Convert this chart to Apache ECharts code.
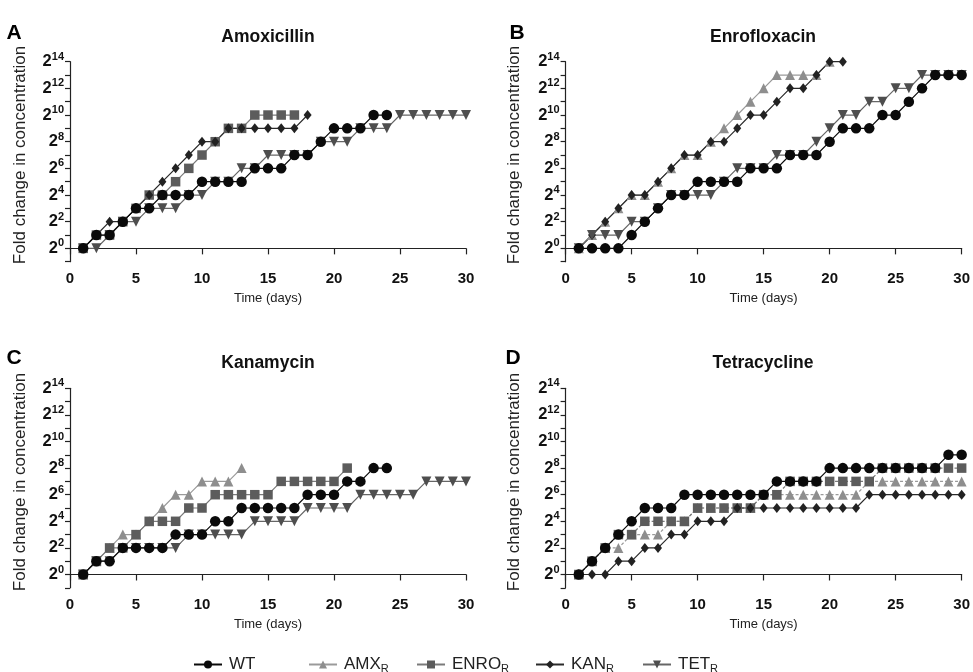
<!DOCTYPE html>
<html><head><meta charset="utf-8">
<script src="https://cdn.jsdelivr.net/npm/echarts@6/dist/echarts.min.js"></script>
<style>html,body{margin:0;padding:0;background:#fff}#c{width:973px;height:672px}</style>
</head><body><div id="c"></div>
<script>
// ---- data (values are log2 fold change, day = index + 1) ----
const yTicks = [0, 2, 4, 6, 8, 10, 12, 14];
const xTicks = [0, 5, 10, 15, 20, 25, 30];
const panelTitles = ['Amoxicillin', 'Enrofloxacin', 'Kanamycin', 'Tetracycline'];
const panelLetters = ['A', 'B', 'C', 'D'];
const seriesNames = ['WT', 'AMXR', 'ENROR', 'KANR', 'TETR'];

// Panel A – Amoxicillin
const A_WT  = [0,1,1,2,3,3,4,4,4,5,5,5,5,6,6,6,7,7,8,9,9,9,10,10];
const A_ENR = [0,1,1,2,3,4,4,5,6,7,8,9,9,10,10,10,10];
const A_KAN = [0,1,2,2,3,4,5,6,7,8,8,9,9,9,9,9,9,10];
const A_TET = [0,0,1,2,2,3,3,3,4,4,5,5,6,6,7,7,7,7,8,8,8,9,9,9,10,10,10,10,10,10];
// Panel B – Enrofloxacin
const B_WT  = [0,0,0,0,1,2,3,4,4,5,5,5,5,6,6,6,7,7,7,8,9,9,9,10,10,11,12,13,13,13];
const B_AMX = [0,1,2,3,4,4,5,6,7,7,8,9,10,11,12,13,13,13,13,14];
const B_KAN = [0,1,2,3,4,4,5,6,7,7,8,8,9,10,10,11,12,12,13,14,14];
const B_TET = [0,1,1,1,2,2,3,4,4,4,4,5,6,6,6,7,7,7,8,9,10,10,11,11,12,12,13,13,13,13];
// Panel C – Kanamycin
const C_WT  = [0,1,1,2,2,2,2,3,3,3,4,4,5,5,5,5,5,6,6,6,7,7,8,8];
const C_AMX = [0,1,2,3,3,4,5,6,6,7,7,7,8];
const C_ENR = [0,1,2,2,3,4,4,4,5,5,6,6,6,6,6,7,7,7,7,7,8];
const C_TET = [0,1,1,2,2,2,2,2,3,3,3,3,3,4,4,4,4,5,5,5,5,6,6,6,6,6,7,7,7,7];
// Panel D – Tetracycline
const D_WT  = [0,1,2,3,4,5,5,5,6,6,6,6,6,6,6,7,7,7,7,8,8,8,8,8,8,8,8,8,9,9];
const D_AMX = [0,1,2,2,3,3,3,4,4,5,5,5,5,5,6,6,6,6,6,6,6,6,7,7,7,7,7,7,7,7];
const D_ENR = [0,1,2,3,3,4,4,4,4,5,5,5,5,5,6,6,7,7,7,7,7,7,7,8,8,8,8,8,8,8];
const D_KAN = [0,0,0,1,1,2,2,3,3,4,4,4,5,5,5,5,5,5,5,5,5,5,6,6,6,6,6,6,6,6];

// ---- styling ----
const FONT = 'Liberation Sans, Arial, Helvetica, sans-serif';
const STY = {
  WT:    { symbol: 'circle',   size: 10.5, rot: 0,   color: '#0a0a0a', line: '#0a0a0a' },
  AMXR:  { symbol: 'triangle', size: 10, rot: 0,   color: '#8e8e8e', line: '#9a9a9a' },
  ENROR: { symbol: 'rect',     size: 9.5,  rot: 0,   color: '#5c5c5c', line: '#7a7a7a' },
  KANR:  { symbol: 'diamond',  size: [8,10], rot: 0, color: '#222222', line: '#2a2a2a' },
  TETR:  { symbol: 'triangle', size: 10, rot: 180, color: '#4e4e4e', line: '#666666' }
};
const legendLabel = { WT: 'WT', AMXR: 'AMX{s|R}', ENROR: 'ENRO{s|R}', KANR: 'KAN{s|R}', TETR: 'TET{s|R}' };

function pairs(arr) { return arr.map((v, i) => [i + 1, v]); }
function mk(name, arr, gi, dashed) {
  const s = STY[name];
  return {
    type: 'line', name: name, xAxisIndex: gi, yAxisIndex: gi,
    data: pairs(arr), symbol: s.symbol, symbolSize: s.size, symbolRotate: s.rot,
    itemStyle: { color: s.color },
    lineStyle: { color: s.line, width: 1.2, type: dashed ? [3, 2] : 'solid' },
    emphasis: { disabled: true }, animation: false,
    z: name === 'WT' ? 5 : 3
  };
}

const grids = [
  { left: 70,    top: 61.7,  width: 396,   height: 200 },
  { left: 565.6, top: 61.7,  width: 396.6, height: 200 },
  { left: 70,    top: 388.3, width: 396,   height: 199.5 },
  { left: 565.6, top: 388.3, width: 396.6, height: 199.5 }
];

const axisLine = { show: true, lineStyle: { color: '#222', width: 1.2 } };
const xAxes = grids.map((g, i) => ({
  type: 'value', gridIndex: i, min: xTicks[0], max: xTicks[xTicks.length - 1], interval: 5,
  axisLine: axisLine, axisTick: { show: true, length: 6, lineStyle: { color: '#222', width: 1.2 } },
  splitLine: { show: false },
  axisLabel: { margin: 10, fontFamily: FONT, fontWeight: 'bold', fontSize: 15, color: '#111' },
  name: 'Time (days)', nameLocation: 'middle', nameGap: 30,
  nameTextStyle: { fontFamily: FONT, fontSize: 13, color: '#222' }
}));
const yAxes = grids.map((g, i) => ({
  type: 'value', gridIndex: i, min: -1, max: 14, interval: 1,
  axisLine: axisLine, axisTick: { show: true, length: 5, lineStyle: { color: '#222', width: 1.2 } },
  splitLine: { show: false },
  axisLabel: {
    margin: 6, fontFamily: FONT,
    formatter: v => (yTicks.indexOf(v) >= 0 ? '{b|2}{s|' + v + '}' : ''),
    rich: {
      b: { fontFamily: FONT, fontWeight: 'bold', fontSize: 16.5, color: '#111' },
      s: { fontFamily: FONT, fontWeight: 'bold', fontSize: 11, color: '#111', padding: [0, 0, 10, 0] }
    }
  }
}));

const series = [
  mk('ENROR', A_ENR, 0), mk('KANR', A_KAN, 0), mk('TETR', A_TET, 0), mk('WT', A_WT, 0),
  mk('AMXR', B_AMX, 1), mk('KANR', B_KAN, 1), mk('TETR', B_TET, 1), mk('WT', B_WT, 1),
  mk('AMXR', C_AMX, 2), mk('ENROR', C_ENR, 2), mk('TETR', C_TET, 2), mk('WT', C_WT, 2),
  mk('AMXR', D_AMX, 3, true), mk('ENROR', D_ENR, 3, true), mk('KANR', D_KAN, 3), mk('WT', D_WT, 3)
];

const legendLeft = { WT: 188, AMXR: 303, ENROR: 411, KANR: 530, TETR: 637 };
const legends = seriesNames.map(n => ({
  data: [n], left: legendLeft[n], top: 651, itemWidth: 28, itemHeight: 10, itemGap: 0,
  selectedMode: false,
  formatter: nm => legendLabel[nm],
  textStyle: {
    fontFamily: FONT, fontSize: 17, color: '#222', padding: [0, 0, 0, 2],
    rich: { s: { fontFamily: FONT, fontSize: 11, color: '#222', padding: [9, 0, 0, 0] } }
  }
}));

const letterPos = [[14, 33], [517, 33], [14, 358], [513, 358]];
const titlePos = [[268, 37], [763, 37], [268, 363], [763, 363]];
const ylabPos = [[20, 155], [514, 155], [20, 482], [514, 482]];
const graphics = [];
for (let i = 0; i < 4; i++) {
  graphics.push({ type: 'text', x: letterPos[i][0], y: letterPos[i][1],
    style: { text: panelLetters[i], font: 'bold 21px ' + FONT, fill: '#000', align: 'center', verticalAlign: 'middle' } });
  graphics.push({ type: 'text', x: titlePos[i][0], y: titlePos[i][1],
    style: { text: panelTitles[i], font: 'bold 17.5px ' + FONT, fill: '#111', align: 'center', verticalAlign: 'middle' } });
  graphics.push({ type: 'text', x: ylabPos[i][0], y: ylabPos[i][1], rotation: Math.PI / 2,
    style: { text: 'Fold change in concentration', font: '17px ' + FONT, fill: '#222', align: 'center', verticalAlign: 'middle' } });
}

const chart = echarts.init(document.getElementById('c'), null, { renderer: 'canvas' });
chart.setOption({
  backgroundColor: '#fff', animation: false,
  grid: grids, xAxis: xAxes, yAxis: yAxes, series: series,
  legend: legends, graphic: graphics
});
</script></body></html>
